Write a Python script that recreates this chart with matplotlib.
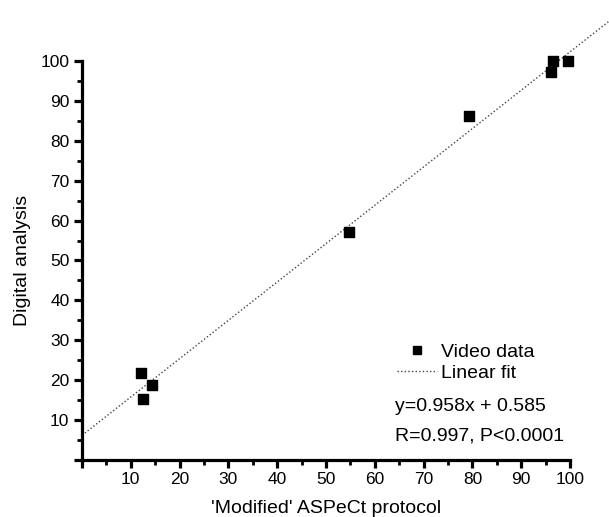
import numpy as np
import matplotlib
matplotlib.use("Agg")
import matplotlib.pyplot as plt
from matplotlib.ticker import MultipleLocator, FuncFormatter
from matplotlib.lines import Line2D

plt.rcParams['font.family'] = ['Liberation Sans', 'DejaVu Sans']

# 'Modified' ASPeCt protocol vs digital analysis
aspect_vals = [12.1, 12.6, 14.3, 54.7, 79.2, 96.2, 96.5, 99.5]
digital_vals = [21.8, 15.3, 18.8, 57.1, 86.2, 97.2, 100.0, 100.0]

fit_text = "y=0.958x + 0.585"
stats_text = "R=0.997, P<0.0001"

fig = plt.figure(figsize=(6.09, 5.17), dpi=100)
ax = fig.add_axes([0.1346, 0.1103, 0.8014, 0.7717])

ax.scatter(aspect_vals, digital_vals, marker='s', s=50, color='black',
           zorder=3, clip_on=False)

# linear fit, drawn past the right edge of the axes
slope, icpt = np.polyfit(aspect_vals, digital_vals, 1)
xx = np.array([0, 115])
ax.plot(xx, slope * xx + icpt, color='#444444', lw=1.0,
        linestyle=(0, (1, 1.6)), clip_on=False, zorder=2)

ax.set_xlim(0, 100)
ax.set_ylim(0, 100)
for s in ['top', 'right']:
    ax.spines[s].set_visible(False)
for s in ['left', 'bottom']:
    ax.spines[s].set_linewidth(2.3)

ax.xaxis.set_major_locator(MultipleLocator(10))
ax.xaxis.set_minor_locator(MultipleLocator(5))
ax.yaxis.set_major_locator(MultipleLocator(10))
ax.yaxis.set_minor_locator(MultipleLocator(5))
hide_zero = FuncFormatter(lambda v, p: '' if v == 0 else f'{v:.0f}')
ax.xaxis.set_major_formatter(hide_zero)
ax.yaxis.set_major_formatter(hide_zero)
ax.tick_params(which='major', direction='out', length=6, width=2.3, labelsize=12.5, pad=3)
ax.tick_params(which='minor', direction='out', length=3.5, width=2.0)

ax.set_xlabel("'Modified' ASPeCt protocol", fontsize=14, labelpad=9)
ax.set_ylabel("Digital analysis", fontsize=14, labelpad=7)

handles = [
    Line2D([], [], marker='s', color='black', linestyle='none', markersize=6),
    Line2D([], [], color='#444444', lw=1.0, linestyle=(0, (1, 1.6))),
]
ax.legend(handles, ['Video data', 'Linear fit'], loc='upper left',
          bbox_to_anchor=(0.645, 0.292), frameon=False, fontsize=14,
          handlelength=2.05, handletextpad=0.25, labelspacing=0.16,
          borderaxespad=0, borderpad=0)

ax.text(0.641, 0.133, fit_text, transform=ax.transAxes, ha='left',
        va='center', fontsize=14)
ax.text(0.641, 0.060, stats_text, transform=ax.transAxes, ha='left',
        va='center', fontsize=14)

fig.savefig('out.png', dpi=100)
